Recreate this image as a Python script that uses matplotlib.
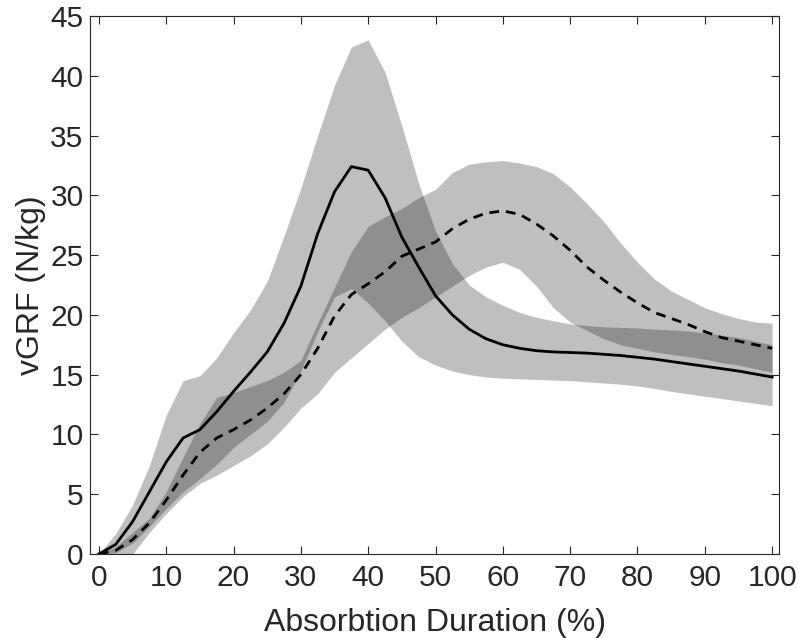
import numpy as np
import matplotlib
matplotlib.use("Agg")
from matplotlib import pyplot as plt

plt.rcParams['font.family'] = ['Liberation Sans', 'DejaVu Sans']

# % of absorption phase, sampled every 2.5 %
pct = np.arange(0, 100.01, 2.5)

# group 1 (solid) mean and band
mean1 = [0, 0.8, 2.7, 5.2, 7.7, 9.7, 10.4, 11.9, 13.6, 15.2,
         16.9, 19.3, 22.4, 26.8, 30.3, 32.4, 32.1, 29.8, 26.5, 24.0,
         21.6, 20.0, 18.8, 18.0, 17.5, 17.2, 17.0, 16.9, 16.85, 16.8,
         16.7, 16.6, 16.45, 16.3, 16.1, 15.9, 15.7, 15.5, 15.3, 15.05, 14.8]
upper1 = [0, 1.7, 4.1, 7.4, 11.6, 14.5, 14.9, 16.4, 18.5, 20.4,
          22.8, 26.6, 30.6, 35.0, 39.2, 42.4, 43.0, 40.3, 35.8, 31.0,
          27.0, 24.3, 22.5, 21.5, 20.8, 20.2, 19.8, 19.5, 19.25, 19.1,
          19.0, 18.95, 18.9, 18.8, 18.75, 18.65, 18.5, 18.3, 18.1, 17.8, 17.5]
lower1 = [0, 0.1, 0.9, 2.3, 3.8, 5.2, 6.3, 7.5, 8.9, 10.0,
          11.1, 12.7, 15.3, 18.6, 21.5, 22.2, 21.0, 19.5, 17.8, 16.5,
          15.8, 15.3, 15.0, 14.8, 14.7, 14.65, 14.6, 14.55, 14.5, 14.4,
          14.3, 14.2, 14.05, 13.85, 13.6, 13.4, 13.2, 13.0, 12.8, 12.6, 12.4]

# group 2 (dashed) mean and band
mean2 = [0, 0.3, 1.2, 2.6, 4.5, 6.6, 8.5, 9.7, 10.4, 11.2,
         12.2, 13.4, 15.0, 17.2, 19.9, 21.7, 22.6, 23.6, 24.9, 25.5,
         26.1, 27.2, 28.0, 28.5, 28.7, 28.4, 27.6, 26.6, 25.4, 24.0,
         22.9, 21.9, 21.0, 20.2, 19.7, 19.2, 18.6, 18.1, 17.8, 17.5, 17.2]
upper2 = [0, 0.6, 1.8, 3.0, 5.2, 8.1, 10.9, 13.1, 13.5, 14.0,
          14.5, 15.2, 16.2, 19.3, 22.3, 25.3, 27.4, 28.2, 28.9, 29.8,
          30.5, 31.9, 32.6, 32.8, 32.9, 32.7, 32.4, 31.8, 30.7, 29.3,
          27.8, 26.0, 24.4, 23.0, 22.0, 21.3, 20.6, 20.1, 19.7, 19.4, 19.3]
lower2 = [0, -0.5, 0.0, 1.8, 3.4, 4.8, 5.9, 6.6, 7.4, 8.2,
          9.2, 10.6, 12.2, 13.4, 15.2, 16.4, 17.6, 18.8, 19.8, 20.6,
          21.5, 22.4, 23.3, 24.0, 24.4, 23.8, 22.4, 20.6, 19.4, 18.7,
          18.0, 17.5, 17.2, 16.9, 16.7, 16.5, 16.3, 16.0, 15.8, 15.5, 15.2]

xticks = np.arange(0, 101, 10)
yticks = np.arange(0, 46, 5)

fig = plt.figure(figsize=(7.98, 6.38), dpi=100)
ax = fig.add_axes([0.1134, 0.1317, 0.8626, 0.8433])

ax.fill_between(pct, lower1, upper1, color='k', alpha=0.25, linewidth=0)
ax.fill_between(pct, lower2, upper2, color='k', alpha=0.25, linewidth=0)
ax.plot(pct, mean1, color='k', lw=2.0)
ax.plot(pct, mean2, color='k', lw=2.0, ls=(0, (3.5, 2.5)))

ax.set_xlim(-1.25, 101)
ax.set_ylim(0, 45)
ax.set_xticks(xticks)
ax.set_yticks(yticks)
ax.tick_params(direction='in', length=6, width=0.8, top=True, right=True,
               labelsize=21.5, colors='#262626')
ax.tick_params(axis='x', pad=7)
ax.tick_params(axis='y', pad=5)
for s in ax.spines.values():
    s.set_color('#262626')
    s.set_linewidth(0.8)

ax.set_xlabel('Absorbtion Duration (%)', fontsize=23, color='#262626', labelpad=12)
ax.set_ylabel('vGRF (N/kg)', fontsize=23, color='#262626', labelpad=3)

fig.savefig('out.png', dpi=100)
